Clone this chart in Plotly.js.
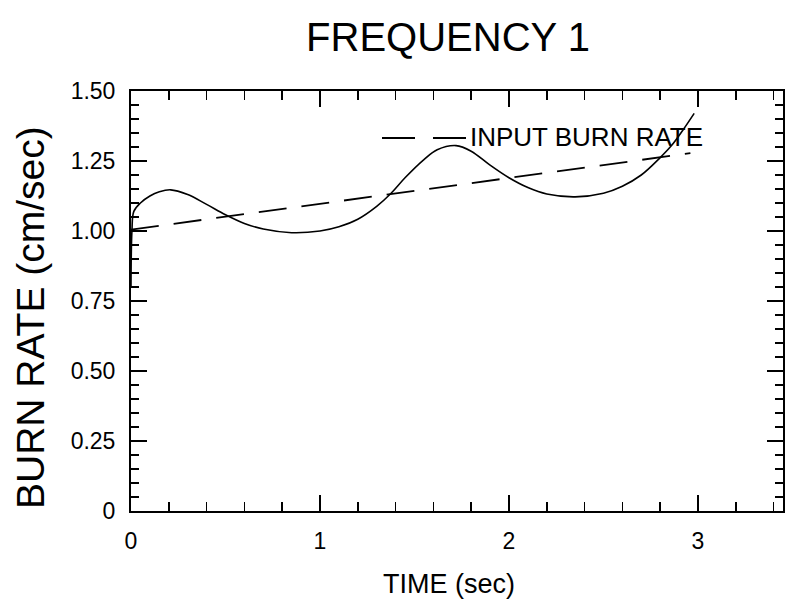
<!DOCTYPE html>
<html>
<head>
<meta charset="utf-8">
<script src="https://cdn.plot.ly/plotly-3.0.1.min.js"></script>
<style>html,body{margin:0;padding:0;background:#fff;}#chart{width:788px;height:608px;}</style>
</head>
<body>
<div id="chart"></div>
<script>
// ---- data ----
const timeSolid = [0, 0.005, 0.015, 0.05, 0.1, 0.15, 0.21, 0.3, 0.4, 0.5, 0.6, 0.7, 0.85, 1.0, 1.1, 1.2, 1.3, 1.375, 1.45, 1.55, 1.62, 1.72, 1.8, 1.9, 2.0, 2.1, 2.2, 2.35, 2.5, 2.6, 2.7, 2.8, 2.86, 2.92, 2.98];
const burnRate  = [0.80, 1.00, 1.07, 1.10, 1.125, 1.14, 1.147, 1.13, 1.095, 1.058, 1.027, 1.007, 0.994, 1.0, 1.015, 1.042, 1.088, 1.134, 1.19, 1.255, 1.29, 1.305, 1.285, 1.235, 1.19, 1.155, 1.132, 1.122, 1.135, 1.16, 1.2, 1.262, 1.305, 1.36, 1.42];
const timeInput = [0, 2.96];
const inputRate = [1.005, 1.278];
const xTickVals = [0, 1, 2, 3];
const xTickText = ["0", "1", "2", "3"];
const yTickVals = [0, 0.25, 0.5, 0.75, 1.0, 1.25, 1.5];
const yTickText = ["0", "0.25", "0.50", "0.75", "1.00", "1.25", "1.50"];
const legendLabel = "INPUT BURN RATE";

// ---- layout geometry (pixels) ----
const W = 788, H = 608;
const L = 131, R = 783, T = 91, B = 511;
const px = x => (x - L) / (R - L);
const py = y => (B - y) / (B - T);
const FONT = "Liberation Sans, Arial, Helvetica, sans-serif";

const traces = [
  { x: timeSolid, y: burnRate, mode: "lines", line: { color: "#000", width: 1.6, shape: "spline", smoothing: 1 }, showlegend: false, hoverinfo: "skip" },
  { x: timeInput, y: inputRate, mode: "lines", line: { color: "#000", width: 1.8, dash: "28px,15px" }, showlegend: false, hoverinfo: "skip" }
];

const axisCommon = {
  showline: true, linecolor: "#000", linewidth: 2, mirror: "ticks",
  ticks: "inside", ticklen: 16, tickwidth: 1.6, tickcolor: "#000",
  showgrid: false, zeroline: false, tickmode: "array",
  tickfont: { family: FONT, size: 23, color: "#000" }
};

const layout = {
  width: W, height: H,
  margin: { l: L, r: W - R, t: T, b: H - B, pad: 0 },
  paper_bgcolor: "#fff", plot_bgcolor: "#fff",
  showlegend: false,
  title: { text: "FREQUENCY 1", font: { family: FONT, size: 40, color: "#000" }, xref: "container", yref: "container", x: 448 / W, xanchor: "center", y: 1 - 37 / H, yanchor: "middle" },
  xaxis: Object.assign({}, axisCommon, {
    range: [0, 3.45], tickvals: xTickVals, ticktext: xTickText, ticklabelstandoff: 8,
    minor: { dtick: 0.2, tick0: 0, ticks: "inside", ticklen: 9, tickwidth: 1.6, tickcolor: "#000", showgrid: false }
  }),
  yaxis: Object.assign({}, axisCommon, {
    range: [0, 1.5], tickvals: yTickVals, ticktext: yTickText, ticklabelstandoff: 9,
    minor: { dtick: 0.05, tick0: 0, ticks: "inside", ticklen: 8, tickwidth: 1.6, tickcolor: "#000", showgrid: false }
  }),
  shapes: [
    { type: "line", xref: "paper", yref: "paper", x0: px(382), x1: px(466), y0: py(138), y1: py(138), line: { color: "#000", width: 1.8, dash: "33px,18px" } }
  ],
  annotations: [
    { text: legendLabel, xref: "paper", yref: "paper", x: px(468), y: py(137), xanchor: "left", yanchor: "middle", showarrow: false, font: { family: FONT, size: 26, color: "#000" } },
    { text: "BURN RATE (cm/sec)", xref: "paper", yref: "paper", x: px(30), y: py(318), xanchor: "center", yanchor: "middle", textangle: -90, showarrow: false, font: { family: FONT, size: 39, color: "#000" } },
    { text: "TIME (sec)", xref: "paper", yref: "paper", x: px(449), y: py(584), xanchor: "center", yanchor: "middle", showarrow: false, font: { family: FONT, size: 27, color: "#000" } }
  ]
};

Plotly.newPlot("chart", traces, layout, { staticPlot: true, displayModeBar: false });
</script>
</body>
</html>
